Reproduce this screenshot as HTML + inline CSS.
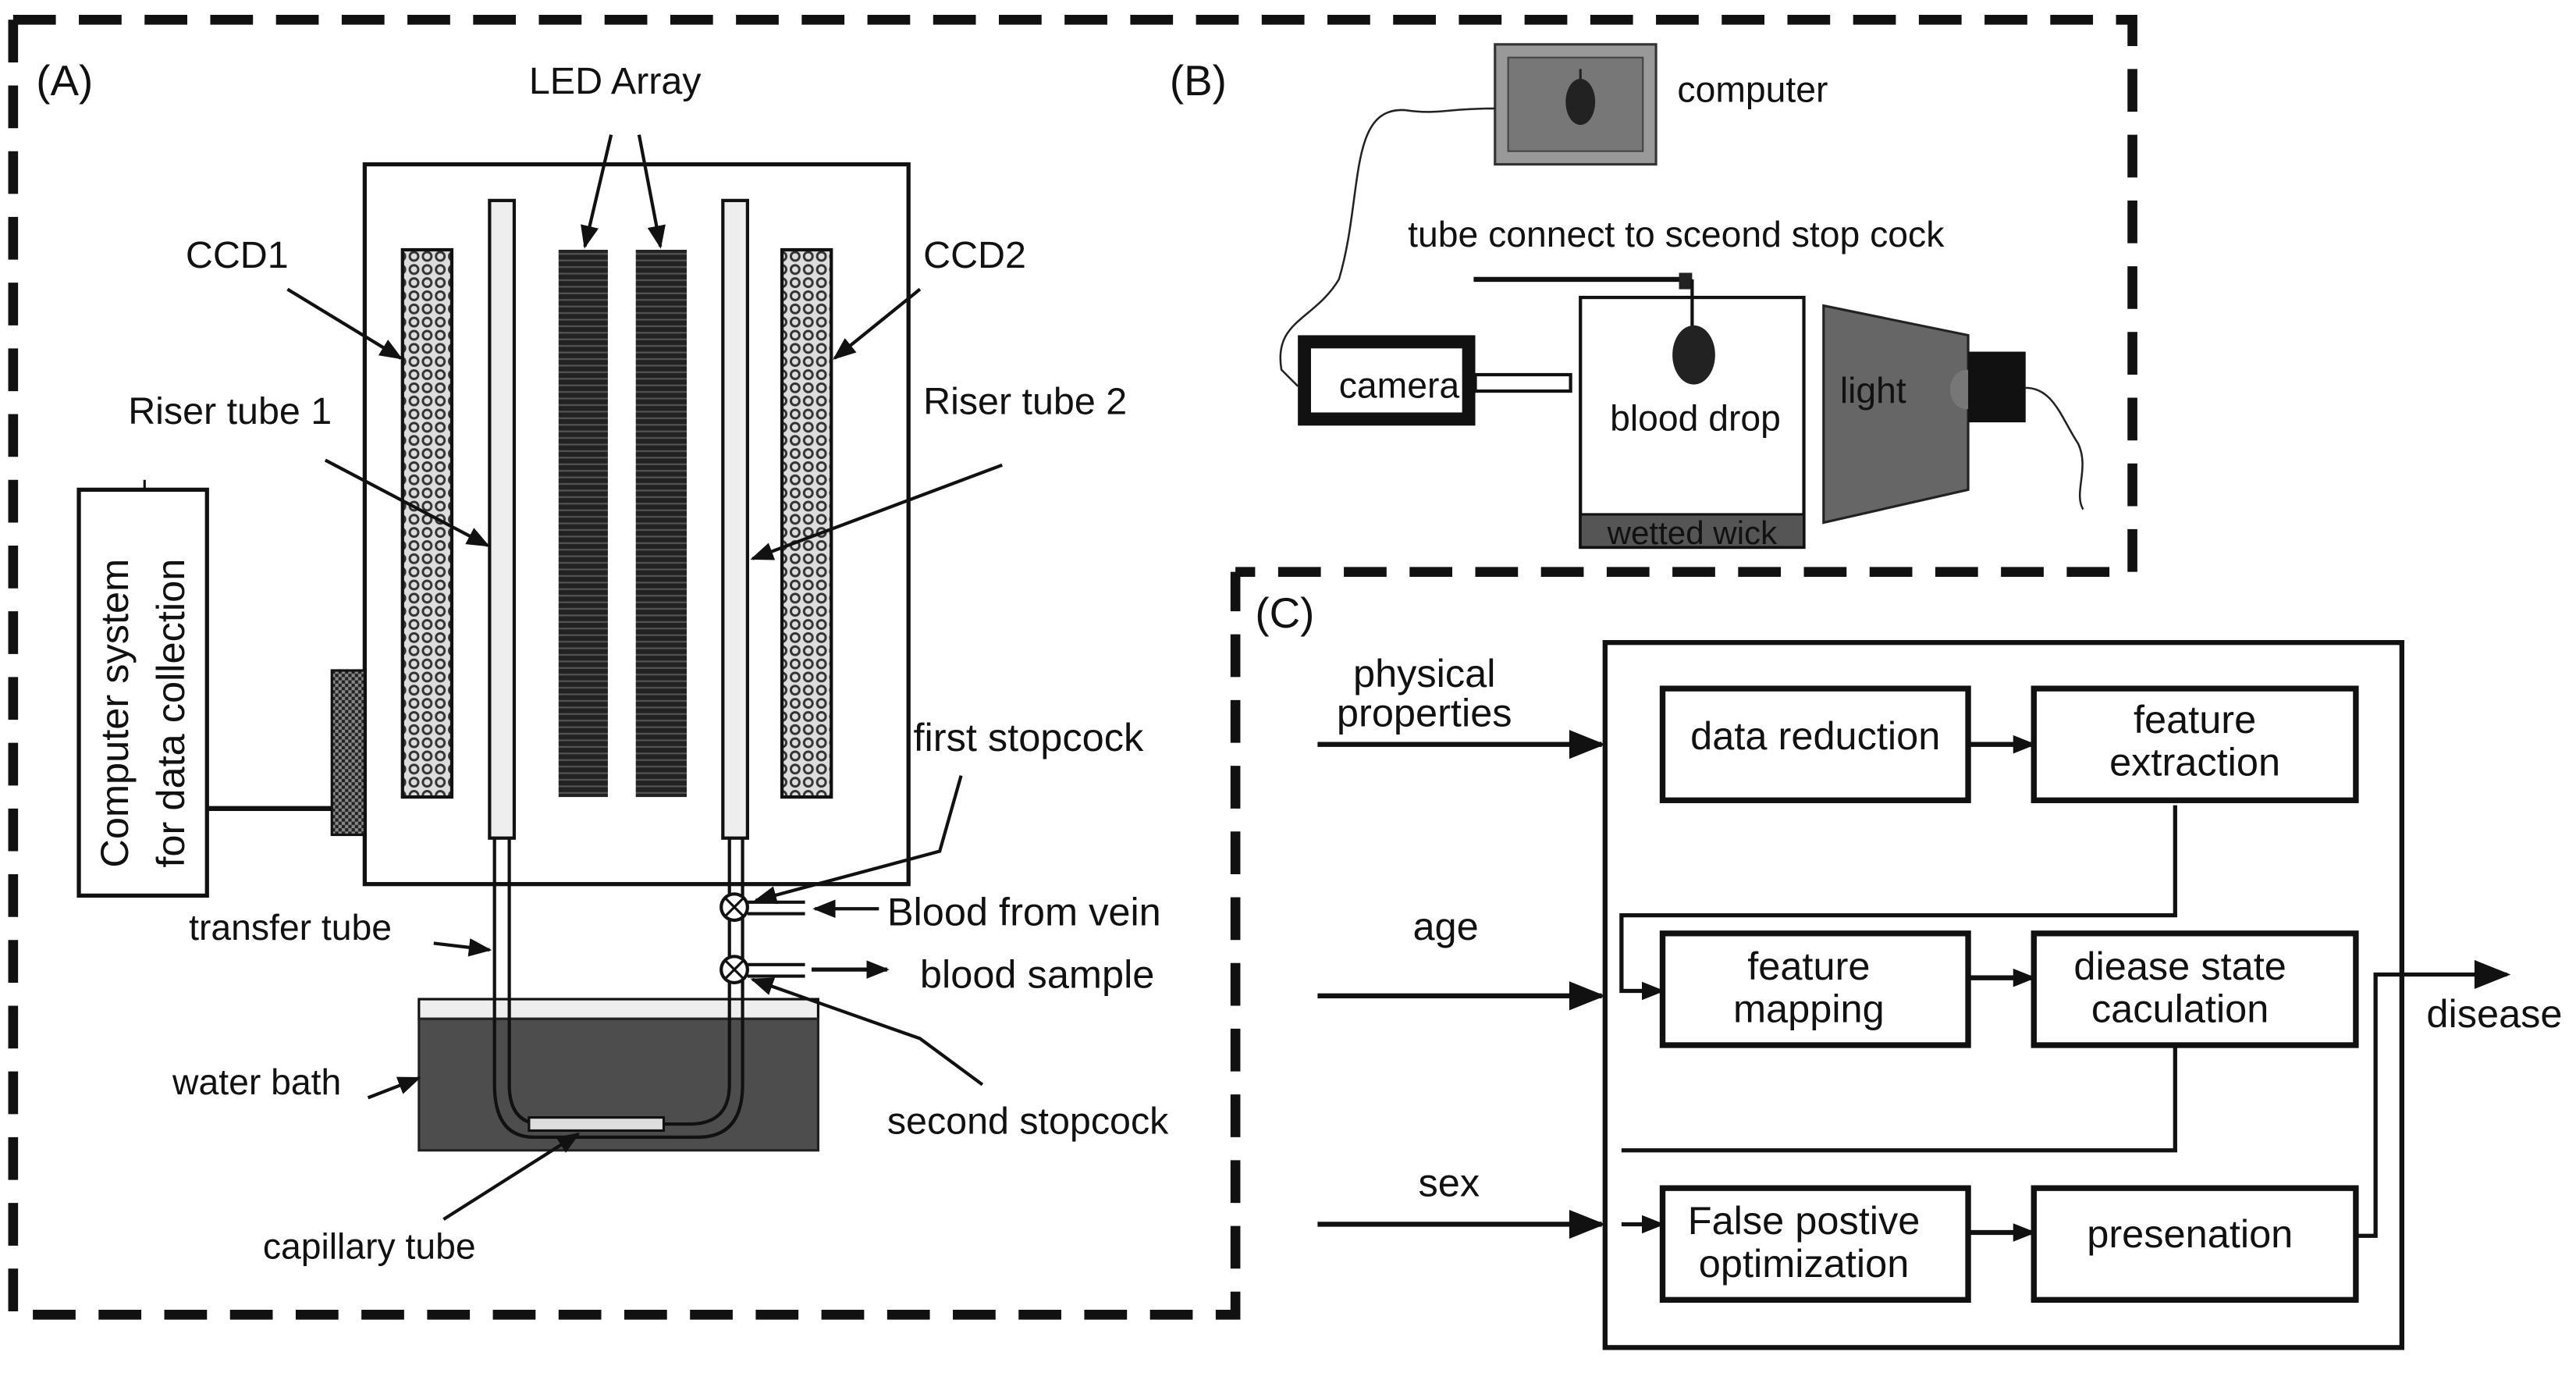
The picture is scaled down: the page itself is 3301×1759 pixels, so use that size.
<!DOCTYPE html>
<html><head><meta charset="utf-8"><style>
html,body{margin:0;padding:0;background:#fff;}
svg{display:block;}
text{font-family:"Liberation Sans",sans-serif;fill:#111;}
</style></head><body>
<svg width="3301" height="1759" viewBox="0 0 1568 835.5" preserveAspectRatio="none" xmlns="http://www.w3.org/2000/svg">
<defs>
<marker id="ab" viewBox="0 0 10 10" refX="9" refY="5" markerWidth="14" markerHeight="14" orient="auto" markerUnits="userSpaceOnUse"><path d="M0,1 L10,5 L0,9 z" fill="#111"/></marker>
<marker id="ac" viewBox="0 0 10 10" refX="9" refY="5" markerWidth="26" markerHeight="22" orient="auto" markerUnits="userSpaceOnUse"><path d="M0,1 L10,5 L0,9 z" fill="#111"/></marker>
<pattern id="hatch" width="8" height="8" patternUnits="userSpaceOnUse"><rect width="8" height="8" fill="#ddd"/><circle cx="4" cy="4" r="2.6" fill="none" stroke="#333" stroke-width="1.4"/></pattern>
<pattern id="led" width="4" height="4" patternUnits="userSpaceOnUse"><rect width="4" height="4" fill="#222"/><rect y="2" width="4" height="1" fill="#555"/></pattern>
<pattern id="chk" width="4" height="4" patternUnits="userSpaceOnUse"><rect width="4" height="4" fill="#222"/><rect width="2" height="2" fill="#888"/><rect x="2" y="2" width="2" height="2" fill="#888"/></pattern>
</defs>

<g stroke="#111" stroke-width="6" fill="none" stroke-dasharray="26,14">
<path d="M8,12 L1298,12 L1298,348 L752,348"/>
<path d="M8,12 L8,800 L752,800 L752,348"/>
</g>

<!-- Panel A -->
<text x="22" y="58" font-size="26">(A)</text>
<text x="322" y="57" font-size="23">LED Array</text>
<rect x="222" y="100" width="331" height="438" fill="#fff" stroke="#111" stroke-width="2.5"/>
<rect x="245" y="152" width="30" height="333" fill="url(#hatch)" stroke="#111" stroke-width="2"/>
<rect x="476" y="152" width="30" height="333" fill="url(#hatch)" stroke="#111" stroke-width="2"/>
<rect x="340" y="152" width="30" height="333" fill="url(#led)"/>
<rect x="387" y="152" width="31" height="333" fill="url(#led)"/>
<rect x="298" y="122" width="15" height="388" fill="#eee" stroke="#111" stroke-width="2"/>
<rect x="440" y="122" width="15" height="388" fill="#eee" stroke="#111" stroke-width="2"/>
<line x1="372" y1="82" x2="356" y2="150" stroke="#111" stroke-width="2" marker-end="url(#ab)"/>
<line x1="389" y1="82" x2="402" y2="150" stroke="#111" stroke-width="2" marker-end="url(#ab)"/>
<text x="113" y="163" font-size="23">CCD1</text>
<line x1="175" y1="176" x2="244" y2="218" stroke="#111" stroke-width="2" marker-end="url(#ab)"/>
<text x="562" y="163" font-size="23">CCD2</text>
<line x1="560" y1="176" x2="508" y2="218" stroke="#111" stroke-width="2" marker-end="url(#ab)"/>
<text x="78" y="258" font-size="23">Riser tube 1</text>
<line x1="198" y1="280" x2="297" y2="332" stroke="#111" stroke-width="2" marker-end="url(#ab)"/>
<text x="562" y="252" font-size="23">Riser tube 2</text>
<line x1="610" y1="283" x2="458" y2="340" stroke="#111" stroke-width="2" marker-end="url(#ab)"/>
<rect x="48" y="298" width="78" height="247" fill="#fff" stroke="#111" stroke-width="2.5"/>
<line x1="88" y1="292" x2="88" y2="298" stroke="#111" stroke-width="1.5"/>
<text transform="translate(78,528) rotate(-90)" font-size="24">Computer system</text>
<text transform="translate(112,528) rotate(-90)" font-size="24">for data collection</text>
<rect x="202" y="408" width="20" height="100" fill="url(#chk)" stroke="#111" stroke-width="1.5"/>
<line x1="126" y1="492" x2="202" y2="492" stroke="#111" stroke-width="3"/>
<rect x="255" y="608" width="243" height="12" fill="#eee" stroke="#111" stroke-width="1.5"/>
<rect x="255" y="620" width="243" height="80" fill="#4d4d4d" stroke="#222" stroke-width="1.5"/>
<g fill="none" stroke="#111" stroke-width="2">
<path d="M301,510 L301,660 Q301,692 325,692 L425,692 Q452,692 452,660 L452,510"/>
<path d="M310,510 L310,660 Q310,684 330,684 L420,684 Q444,684 444,660 L444,510"/>
</g>
<rect x="322" y="680" width="82" height="8" fill="#ddd" stroke="#111" stroke-width="1.5"/>
<circle cx="447" cy="552" r="8" fill="#fff" stroke="#111" stroke-width="2"/>
<path d="M441,546 L453,558 M453,546 L441,558" stroke="#111" stroke-width="1.5"/>
<circle cx="447" cy="590" r="8" fill="#fff" stroke="#111" stroke-width="2"/>
<path d="M441,584 L453,596 M453,584 L441,596" stroke="#111" stroke-width="1.5"/>
<path d="M455,549 L490,549 M455,556 L490,556 M455,587 L490,587 M455,594 L490,594" stroke="#111" stroke-width="2"/>
<line x1="535" y1="553" x2="496" y2="553" stroke="#111" stroke-width="2" marker-end="url(#ab)"/>
<line x1="494" y1="590" x2="540" y2="590" stroke="#111" stroke-width="2.5" marker-end="url(#ab)"/>
<text x="556" y="457" font-size="24">first stopcock</text>
<path d="M585,472 L572,518 L460,548" fill="none" stroke="#111" stroke-width="2" marker-end="url(#ab)"/>
<text x="540" y="563" font-size="24">Blood from vein</text>
<text x="560" y="601" font-size="24">blood sample</text>
<text x="115" y="572" font-size="22">transfer tube</text>
<line x1="264" y1="574" x2="298" y2="578" stroke="#111" stroke-width="2" marker-end="url(#ab)"/>
<text x="105" y="666" font-size="22">water bath</text>
<line x1="224" y1="668" x2="255" y2="656" stroke="#111" stroke-width="2" marker-end="url(#ab)"/>
<text x="540" y="690" font-size="23">second stopcock</text>
<path d="M598,660 L560,632 L458,596" fill="none" stroke="#111" stroke-width="2" marker-end="url(#ab)"/>
<text x="160" y="766" font-size="22">capillary tube</text>
<line x1="270" y1="742" x2="352" y2="690" stroke="#111" stroke-width="2" marker-end="url(#ab)"/>

<!-- Panel B -->
<text x="712" y="58" font-size="26">(B)</text>
<rect x="910" y="27" width="98" height="73" fill="#999" stroke="#333" stroke-width="1.5"/>
<rect x="918" y="35" width="82" height="57" fill="#777" stroke="#444" stroke-width="1"/>
<ellipse cx="962" cy="62" rx="9" ry="14" fill="#222"/>
<line x1="962" y1="42" x2="962" y2="50" stroke="#222" stroke-width="1.5"/>
<text x="1021" y="62" font-size="22">computer</text>
<path d="M910,66 C880,66 875,70 855,67 C820,65 830,120 815,170 C800,195 775,195 780,225 L790,235" fill="none" stroke="#222" stroke-width="1.2"/>
<text x="857" y="150" font-size="22">tube connect to sceond stop cock</text>
<rect x="794" y="208" width="100" height="47" fill="#fff" stroke="#111" stroke-width="8"/>
<text x="815" y="242" font-size="22">camera</text>
<rect x="898" y="228" width="58" height="10" fill="#fff" stroke="#111" stroke-width="2"/>
<rect x="962" y="181" width="136" height="152" fill="#fff" stroke="#111" stroke-width="2"/>
<rect x="962" y="313" width="136" height="20" fill="#555" stroke="#111" stroke-width="1.5"/>
<text x="1030" y="331" font-size="20" text-anchor="middle">wetted wick</text>
<line x1="897" y1="170" x2="1027" y2="170" stroke="#111" stroke-width="3"/>
<rect x="1022" y="166" width="8" height="10" fill="#222"/>
<line x1="1030" y1="170" x2="1030" y2="200" stroke="#111" stroke-width="2"/>
<ellipse cx="1031" cy="216" rx="13" ry="18" fill="#222"/>
<text x="980" y="262" font-size="22">blood drop</text>
<path d="M1110,186 L1198,204 L1198,298 L1110,318 Z" fill="#666" stroke="#222" stroke-width="1.5"/>
<ellipse cx="1197" cy="237" rx="10" ry="12" fill="#777"/>
<text x="1120" y="245" font-size="22">light</text>
<rect x="1198" y="214" width="35" height="43" fill="#111"/>
<path d="M1233,236 C1250,236 1255,255 1265,270 C1272,285 1262,300 1268,310" fill="none" stroke="#222" stroke-width="1.2"/>

<!-- Panel C -->
<text x="764" y="382" font-size="26">(C)</text>
<rect x="977" y="391" width="485" height="429" fill="none" stroke="#111" stroke-width="3"/>
<g fill="#fff" stroke="#111" stroke-width="3.5">
<rect x="1012" y="419" width="186" height="68"/>
<rect x="1238" y="419" width="196" height="68"/>
<rect x="1012" y="568" width="186" height="68"/>
<rect x="1238" y="568" width="196" height="68"/>
<rect x="1012" y="723" width="186" height="68"/>
<rect x="1238" y="723" width="196" height="68"/>
</g>
<g font-size="24" text-anchor="middle">
<text x="1105" y="456">data reduction</text>
<text x="1336" y="446">feature</text>
<text x="1336" y="472">extraction</text>
<text x="1101" y="596">feature</text>
<text x="1101" y="622">mapping</text>
<text x="1327" y="596">diease state</text>
<text x="1327" y="622">caculation</text>
<text x="1098" y="751">False postive</text>
<text x="1098" y="777">optimization</text>
<text x="1333" y="759">presenation</text>
<text x="867" y="418">physical</text>
<text x="867" y="442">properties</text>
<text x="880" y="572">age</text>
<text x="882" y="728">sex</text>
</g>
<text x="1477" y="625" font-size="24">disease</text>
<g stroke="#111" stroke-width="3" fill="none">
<line x1="802" y1="453" x2="975" y2="453" marker-end="url(#ac)"/>
<line x1="802" y1="606" x2="975" y2="606" marker-end="url(#ac)"/>
<line x1="802" y1="745" x2="975" y2="745" marker-end="url(#ac)"/>
<line x1="1198" y1="453" x2="1238" y2="453" marker-end="url(#ab)"/>
<line x1="1198" y1="595" x2="1238" y2="595" marker-end="url(#ab)"/>
<line x1="1198" y1="750" x2="1238" y2="750" marker-end="url(#ab)"/>
<path d="M1324,490 L1324,557 L987,557 L987,603 L1012,603" stroke-width="2.5" marker-end="url(#ab)"/>
<path d="M1324,636 L1324,700 L987,700" stroke-width="2.5"/>
<path d="M987,745 L1012,745" stroke-width="2.5" marker-end="url(#ab)"/>
<path d="M1434,752 L1446,752 L1446,593 L1526,593" stroke-width="2.5" marker-end="url(#ac)"/>
</g>
</svg>
</body></html>
